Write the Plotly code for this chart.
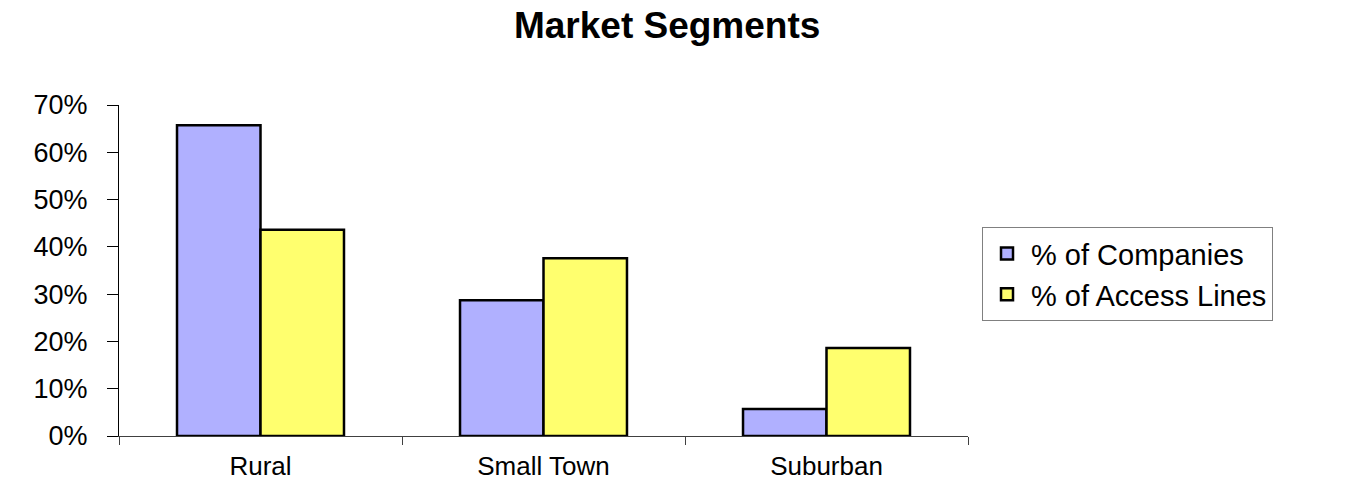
import plotly.graph_objects as go

categories = ["Rural", "Small Town", "Suburban"]
companies = [0.657, 0.287, 0.057]
access_lines = [0.436, 0.376, 0.186]
series_names = ["% of Companies", "% of Access Lines"]

FONT = "Liberation Sans, Arial, sans-serif"

fig = go.Figure()
fig.add_trace(go.Bar(
    x=categories, y=companies, name=series_names[0],
    marker=dict(color="#b0b0ff", line=dict(color="black", width=2.5)),
))
fig.add_trace(go.Bar(
    x=categories, y=access_lines, name=series_names[1],
    marker=dict(color="#ffff6e", line=dict(color="black", width=2.5)),
))

fig.update_layout(
    width=1345, height=485,
    paper_bgcolor="white", plot_bgcolor="white",
    margin=dict(l=119, r=377, t=105, b=49, autoexpand=False),
    barmode="group", bargap=0.41, bargroupgap=0,
    font=dict(family=FONT, color="black", size=27),
    title=dict(text="<b>Market Segments</b>", x=0.496, xref="container", xanchor="center",
               y=0.948, yref="container", yanchor="middle",
               font=dict(family=FONT, size=37, color="black")),
    legend=dict(x=1.0165, xanchor="left", y=0.489, yanchor="middle",
                bordercolor="#808080", borderwidth=1, bgcolor="white",
                font=dict(family=FONT, size=29, color="black"),
                itemwidth=38, tracegroupgap=0),
    showlegend=True,
)
fig.update_xaxes(
    showline=True, linecolor="#404040", linewidth=1,
    ticks="outside", ticklen=8, tickcolor="#404040", tickson="boundaries",
    showgrid=False, ticklabelstandoff=7,
    tickfont=dict(family=FONT, size=26),
)
fig.update_yaxes(
    range=[0, 0.7], dtick=0.1, tickformat=".0%",
    showline=True, linecolor="black", linewidth=1,
    ticks="outside", ticklen=11, tickcolor="black",
    showgrid=False, zeroline=False, ticklabelstandoff=14,
    tickfont=dict(family=FONT, size=27),
)

fig.write_html("out.html")
